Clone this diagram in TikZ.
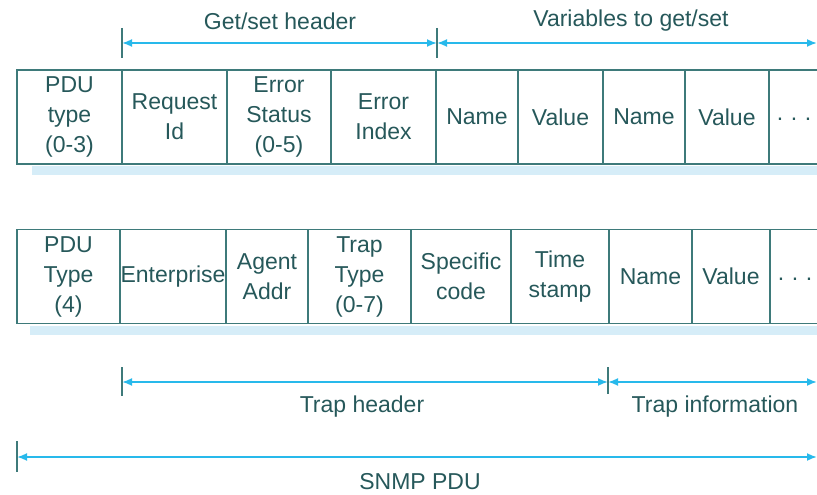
\documentclass[tikz,border=0pt]{standalone}
\usepackage{fontspec}
\setmainfont{Liberation Sans}
\usetikzlibrary{arrows.meta}

\definecolor{txt}{RGB}{38,88,90}
\definecolor{rule}{RGB}{62,122,122}
\definecolor{dimblue}{RGB}{40,185,235}
\definecolor{band}{RGB}{214,237,248}

\tikzset{
  every node/.style={font=\fontsize{23}{30}\selectfont, text=txt},
  cell/.style={draw=rule, line width=1.8pt, inner sep=0pt, align=center,
               minimum height=94pt},
  shade/.style={fill=band, draw=none},
  dim/.style={draw=dimblue, line width=1.8pt,
              {Latex[length=10pt,width=8pt]}-{Latex[length=10pt,width=8pt]}},
  tickmark/.style={draw=rule, line width=1.5pt},
  lbl/.style={inner sep=0pt}
}

\begin{document}
\begin{tikzpicture}[x=1pt, y=-1pt]
\useasboundingbox (0,0) rectangle (817,495);
\clip (0,0) rectangle (817,495);

% ---- Get/Set PDU ----
\fill[shade] (32,166) rectangle (830,175);
\node[cell, minimum width=105] (t1) at (69.5,117) {PDU\\type\\(0-3)};
\node[cell, minimum width=105] (t2) at (174.5,117) {Request\\Id};
\node[cell, minimum width=104] (t3) at (279,117) {Error\\Status\\(0-5)};
\node[cell, minimum width=105] (t4) at (383.5,117) {Error\\Index};
\node[cell, minimum width=82]  (t5) at (477,117) {Name};
\node[cell, minimum width=85]  (t6) at (560.5,117) {Value};
\node[cell, minimum width=82]  (t7) at (644,117) {Name};
\node[cell, minimum width=84]  (t8) at (727,117) {Value};
\node[cell, minimum width=70]  (t9) at (804,117) {};
\node[lbl] (t9dots) at (794,119) {.\,\,.\,\,.};

% ---- Trap PDU ----
\fill[shade] (30,326) rectangle (830,335);
\node[cell, minimum width=103] (b1) at (68.5,276.5) {PDU\\Type\\(4)};
\node[cell, minimum width=106] (b2) at (173,276.5) {Enterprise};
\node[cell, minimum width=82]  (b3) at (267,276.5) {Agent\\Addr};
\node[cell, minimum width=103] (b4) at (359.5,276.5) {Trap\\Type\\(0-7)};
\node[cell, minimum width=100] (b5) at (461,276.5) {Specific\\code};
\node[cell, minimum width=98]  (b6) at (560,276.5) {Time\\stamp};
\node[cell, minimum width=83]  (b7) at (650.5,276.5) {Name};
\node[cell, minimum width=78]  (b8) at (731,276.5) {Value};
\node[cell, minimum width=70]  (b9) at (805,276.5) {};
\node[lbl] (b9dots) at (795,279) {.\,\,.\,\,.};

% ---- field spans, top ----
\coordinate (gs0) at (122,43);
\coordinate (gs1) at (437,43);
\coordinate (gs2) at (817,43);
\draw[tickmark] (gs0) ++(0,-15) -- ++(0,30);
\draw[tickmark] (gs1) ++(0,-15) -- ++(0,30);
\draw[dim] (gs0) -- (gs1);
\draw[dim] (gs1) -- (gs2);
\node[lbl] (gslbl) at (280,21) {Get/set header};
\node[lbl] (varlbl) at (631,21) {Variables to get/set};

% ---- field spans, bottom ----
\coordinate (th0) at (122,382);
\coordinate (th1) at (608,382);
\coordinate (th2) at (817,382);
\draw[tickmark] (th0) ++(0,-15) -- ++(0,29);
\draw[tickmark] (th1) ++(0,-15) -- ++(0,27);
\draw[dim] (th0) -- (th1);
\draw[dim] (th1) -- (th2);
\node[lbl] (thlbl) at (362,407) {Trap header};
\node[lbl] (tilbl) at (715,407) {Trap information};

\coordinate (sp0) at (17,457);
\coordinate (sp1) at (817,457);
\draw[tickmark] (sp0) ++(0,-16) -- ++(0,31);
\draw[dim] (sp0) -- (sp1);
\node[lbl] (splbl) at (420,482) {SNMP PDU};
\end{tikzpicture}
\end{document}
